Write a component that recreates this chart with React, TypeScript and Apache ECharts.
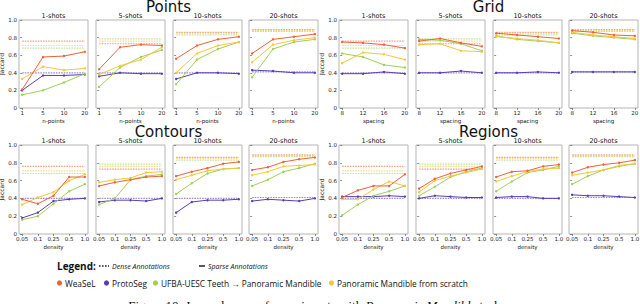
import React, { useEffect, useRef } from 'react';
import * as echarts from 'echarts';

const shotLabels = ['1-shots', '5-shots', '10-shots', '20-shots'];
const nPointsLabels = ['1', '5', '10', '20'];
const spacingLabels = ['8', '12', '16', '20'];
const densityLabels = ['0.05', '0.1', '0.25', '0.5', '1.0'];

// dense-annotation baselines per shot count
const denseWeasel = [0.76, 0.73, 0.86, 0.89];
const denseProto = [0.40, 0.40, 0.40, 0.41];
const denseUfba = [0.68, 0.785, 0.83, 0.87];
const denseScratch = [0.71, 0.76, 0.85, 0.88];

// Points
const pointsWeasel = [[0.21, 0.58, 0.59, 0.64], [0.44, 0.69, 0.72, 0.71], [0.56, 0.71, 0.78, 0.81], [0.62, 0.78, 0.81, 0.84]];
const pointsProto = [[0.20, 0.37, 0.37, 0.38], [0.36, 0.40, 0.39, 0.39], [0.33, 0.40, 0.40, 0.39], [0.43, 0.42, 0.40, 0.40]];
const pointsUfba = [[0.15, 0.20, 0.29, 0.39], [0.24, 0.46, 0.58, 0.66], [0.27, 0.55, 0.67, 0.75], [0.35, 0.67, 0.75, 0.78]];
const pointsScratch = [[0.33, 0.47, 0.43, 0.45], [0.38, 0.48, 0.55, 0.69], [0.40, 0.62, 0.71, 0.75], [0.52, 0.72, 0.77, 0.80]];

// Grid
const gridWeasel = [[0.75, 0.74, 0.72, 0.68], [0.76, 0.79, 0.74, 0.70], [0.85, 0.83, 0.81, 0.79], [0.88, 0.86, 0.83, 0.82]];
const gridProto = [[0.39, 0.39, 0.41, 0.39], [0.40, 0.40, 0.42, 0.40], [0.40, 0.40, 0.41, 0.40], [0.41, 0.41, 0.41, 0.41]];
const gridUfba = [[0.62, 0.58, 0.49, 0.46], [0.78, 0.77, 0.73, 0.65], [0.82, 0.78, 0.76, 0.74], [0.85, 0.82, 0.80, 0.78]];
const gridScratch = [[0.51, 0.63, 0.61, 0.55], [0.72, 0.73, 0.65, 0.64], [0.81, 0.79, 0.77, 0.74], [0.86, 0.83, 0.81, 0.79]];

// Contours
const contoursWeasel = [[0.39, 0.34, 0.43, 0.64, 0.64], [0.54, 0.58, 0.61, 0.64, 0.65], [0.65, 0.70, 0.74, 0.79, 0.81], [0.72, 0.75, 0.81, 0.84, 0.86]];
const contoursProto = [[0.18, 0.24, 0.37, 0.39, 0.40], [0.36, 0.38, 0.38, 0.37, 0.40], [0.24, 0.36, 0.38, 0.38, 0.39], [0.37, 0.39, 0.38, 0.37, 0.40]];
const contoursUfba = [[0.16, 0.20, 0.34, 0.48, 0.56], [0.33, 0.40, 0.61, 0.65, 0.67], [0.45, 0.57, 0.68, 0.73, 0.74], [0.54, 0.61, 0.70, 0.74, 0.79]];
const contoursScratch = [[0.33, 0.41, 0.47, 0.60, 0.67], [0.58, 0.61, 0.63, 0.69, 0.70], [0.61, 0.66, 0.71, 0.73, 0.74], [0.66, 0.70, 0.76, 0.77, 0.78]];

// Regions
const regionsWeasel = [[0.41, 0.49, 0.54, 0.54, 0.67], [0.51, 0.62, 0.68, 0.72, 0.76], [0.64, 0.70, 0.71, 0.76, 0.78], [0.69, 0.75, 0.78, 0.80, 0.83]];
const regionsProto = [[0.42, 0.42, 0.42, 0.43, 0.42], [0.40, 0.43, 0.42, 0.41, 0.41], [0.41, 0.42, 0.42, 0.40, 0.40], [0.44, 0.43, 0.43, 0.42, 0.41]];
const regionsUfba = [[0.21, 0.33, 0.43, 0.48, 0.54], [0.43, 0.53, 0.64, 0.70, 0.74], [0.48, 0.59, 0.69, 0.72, 0.76], [0.56, 0.65, 0.72, 0.76, 0.79]];
const regionsScratch = [[0.39, 0.39, 0.50, 0.59, 0.54], [0.47, 0.60, 0.65, 0.69, 0.73], [0.59, 0.65, 0.70, 0.73, 0.74], [0.66, 0.69, 0.72, 0.77, 0.79]];

const methodNames = ['WeaSeL', 'ProtoSeg', 'UFBA-UESC Teeth \u2192 Panoramic Mandible', 'Panoramic Mandible from scratch'];
const colors = ['#f0603a', '#5a3db6', '#9fcf55', '#f2c83c'];

const FONT = '"DejaVu Sans", sans-serif';

const tasks = [
  { name: 'Points', labels: nPointsLabels, xName: 'n-points', lefts: [19, 96, 173, 249], top: 20, height: 88, data: [pointsWeasel, pointsProto, pointsUfba, pointsScratch] },
  { name: 'Grid', labels: spacingLabels, xName: 'spacing', lefts: [339, 416, 493, 569], top: 20, height: 88, data: [gridWeasel, gridProto, gridUfba, gridScratch] },
  { name: 'Contours', labels: densityLabels, xName: 'density', lefts: [19, 96, 173, 249], top: 145, height: 89, data: [contoursWeasel, contoursProto, contoursUfba, contoursScratch] },
  { name: 'Regions', labels: densityLabels, xName: 'density', lefts: [339, 416, 493, 569], top: 145, height: 89, data: [regionsWeasel, regionsProto, regionsUfba, regionsScratch] },
];
const denseAll = [denseWeasel, denseProto, denseUfba, denseScratch];
const PANEL_W = 69;

function buildOption() {
  const grid: any[] = [];
  const xAxis: any[] = [];
  const yAxis: any[] = [];
  const series: any[] = [];
  const graphic: any[] = [];

  tasks.forEach((t) => {
    const n = t.labels.length;
    const m = 0.05 * (n - 1);
    const idx = t.labels.map((_, k) => k);
    const first = t.lefts[0];
    const last = t.lefts[3] + PANEL_W;
    graphic.push({
      type: 'text', x: (first + last) / 2, y: t.top - 13.5,
      style: { text: t.name, fontSize: 15, fontFamily: FONT, fill: '#111', align: 'center', verticalAlign: 'middle' },
    });
    t.lefts.forEach((left, j) => {
      const gi = grid.length;
      grid.push({ left, top: t.top, width: PANEL_W, height: t.height, show: true, borderColor: '#b5b5b5', borderWidth: 1, backgroundColor: 'transparent', containLabel: false, outerBoundsMode: 'none' });
      graphic.push({
        type: 'text', x: left + PANEL_W / 2, y: t.top - 4.5,
        style: { text: shotLabels[j], fontSize: 6.5, fontFamily: FONT, fill: '#111', align: 'center', verticalAlign: 'middle' },
      });
      xAxis.push({
        gridIndex: gi, type: 'value', min: -m, max: n - 1 + m,
        axisLine: { show: false }, splitLine: { show: false },
        axisTick: { show: true, customValues: idx, length: 2, lineStyle: { color: '#444', width: 0.6 } },
        axisLabel: { show: true, customValues: idx, formatter: (v: number) => t.labels[Math.round(v)], fontSize: 5.5, fontFamily: FONT, margin: 2, color: '#222' },
        name: t.xName, nameLocation: 'middle', nameGap: 9.5, nameTextStyle: { fontSize: 5.5, fontFamily: FONT, color: '#222' },
      });
      yAxis.push({
        gridIndex: gi, type: 'value', min: 0, max: 1, interval: 0.2,
        axisLine: { show: false }, splitLine: { show: false },
        axisTick: { show: true, length: 2, lineStyle: { color: '#444', width: 0.6 } },
        axisLabel: { show: j === 0, fontSize: 5.5, fontFamily: FONT, margin: 2, color: '#222', formatter: (v: number) => (v === 0 ? '0' : v.toFixed(1)) },
        name: j === 0 ? 'Jaccard' : '', nameLocation: 'middle', nameGap: 13, nameTextStyle: { fontSize: 6, fontFamily: FONT, color: '#222' },
      });
      // dense baselines
      denseAll.forEach((d, mi) => {
        series.push({
          type: 'line', xAxisIndex: gi, yAxisIndex: gi, silent: true, symbol: 'none', z: 2,
          data: idx.map((k) => [k, d[j]]),
          lineStyle: { color: colors[mi], width: 1.2, type: [1.6, 1], opacity: 0.6 },
        });
      });
      // sparse results
      [1, 2, 3, 0].forEach((mi) => {
        const vals = t.data[mi][j];
        series.push({
          type: 'line', xAxisIndex: gi, yAxisIndex: gi, silent: true, z: 3,
          symbol: 'circle', symbolSize: 2.4,
          data: vals.map((v: number, k: number) => [k, v]),
          itemStyle: { color: colors[mi] },
          lineStyle: { color: colors[mi], width: 1 },
        });
      });
    });
  });

  // legend row 1
  graphic.push({ type: 'text', x: 57, y: 266, style: { text: 'Legend:', fontSize: 10, fontWeight: 'bold', fontFamily: '"Open Sans", sans-serif', fill: '#111', verticalAlign: 'middle' } });
  graphic.push({ type: 'line', shape: { x1: 99, y1: 266, x2: 109, y2: 266 }, style: { stroke: '#222', lineWidth: 1.3, lineDash: [1.6, 1.4] } });
  graphic.push({ type: 'text', x: 112, y: 266, style: { text: 'Dense Annotations', fontSize: 7, fontStyle: 'italic', fontFamily: '"Open Sans", sans-serif', fill: '#111', verticalAlign: 'middle' } });
  graphic.push({ type: 'line', shape: { x1: 199, y1: 266, x2: 205, y2: 266 }, style: { stroke: '#222', lineWidth: 1.5 } });
  graphic.push({ type: 'text', x: 208, y: 266, style: { text: 'Sparse Annotations', fontSize: 7, fontStyle: 'italic', fontFamily: '"Open Sans", sans-serif', fill: '#111', verticalAlign: 'middle' } });

  // legend row 2
  const dotXs = [59.5, 106.5, 155.5, 331.5];
  dotXs.forEach((x, i) => {
    graphic.push({ type: 'circle', shape: { cx: x, cy: 283, r: 2.6 }, style: { fill: colors[i] } });
    graphic.push({ type: 'text', x: x + 5.5, y: 283, style: { text: methodNames[i], fontSize: 8.3, fontFamily: '"Open Sans", sans-serif', fill: '#111', verticalAlign: 'middle' } });
  });

  // caption (cut off at the bottom)
  graphic.push({
    type: 'text', x: 316, y: 299,
    style: {
      text: 'Figure 10: Jaccard score of experiments with {i|Panoramic Mandible} task.',
      rich: { i: { fontStyle: 'italic', fontSize: 13, fontFamily: '"Liberation Serif", serif', fill: '#111' } },
      fontSize: 13, fontFamily: '"Liberation Serif", serif', fill: '#111', align: 'center', verticalAlign: 'top',
    },
  });

  return { animation: false, backgroundColor: '#ffffff', grid, xAxis, yAxis, series, graphic };
}

export default function App() {
  const ref = useRef<HTMLDivElement>(null);
  useEffect(() => {
    if (!ref.current) return;
    const chart = echarts.init(ref.current, undefined, { renderer: 'svg' });
    chart.setOption(buildOption() as any);
    return () => chart.dispose();
  }, []);
  return <div ref={ref} style={{ position: 'absolute', left: 0, top: 0, width: 640, height: 304 }} />;
}
